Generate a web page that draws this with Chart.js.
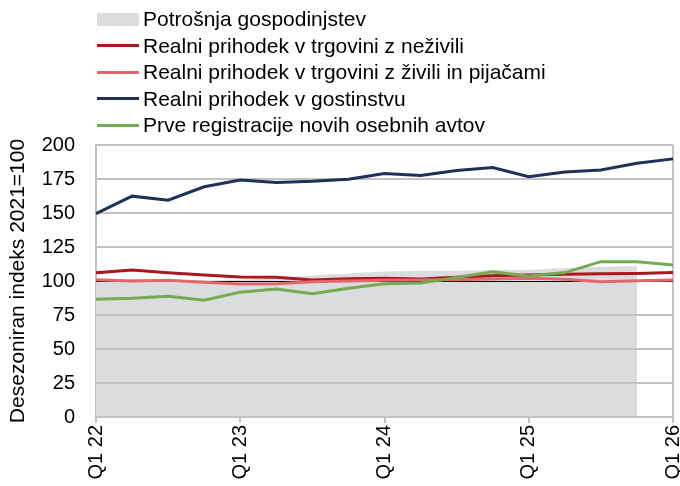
<!DOCTYPE html>
<html><head><meta charset="utf-8">
<script src="https://cdn.jsdelivr.net/npm/chart.js@4.4.1/dist/chart.umd.min.js"></script>
<style>
body{margin:0;background:#fff;}
#wrap{position:relative;width:680px;height:486px;}
#legend{position:absolute;left:0;top:0;width:680px;height:140px;font-family:"Liberation Sans",Arial,sans-serif;font-size:21px;color:#000;}
.item{position:absolute;left:97px;height:24px;white-space:nowrap;}
.sw{position:absolute;left:0;width:42px;}
.tx{position:absolute;left:46px;top:0;line-height:24px;}
</style></head><body>
<div id="wrap"><canvas id="c"></canvas><div id="legend"></div></div>
<script>
const categories = ['Q1 22','Q2 22','Q3 22','Q4 22','Q1 23','Q2 23','Q3 23','Q4 23','Q1 24','Q2 24','Q3 24','Q4 24','Q1 25','Q2 25','Q3 25','Q4 25','Q1 26'];
const consumption = [101, 101.5, 101, 100.5, 101, 102, 104, 105.5, 107, 107.5, 107.5, 108, 108, 109.5, 110.5, 111, null];
const retailNonFood = [106, 108, 106, 104.5, 103, 102.8, 100.8, 101.6, 102, 101.5, 102.8, 103.8, 104.5, 105, 105.3, 105.6, 106.2];
const retailFood = [101, 100, 100.5, 99, 97.8, 97.9, 99.5, 100, 100.5, 100.8, 101, 101.5, 102, 101.2, 99.5, 100.2, 100.7];
const hospitality = [149.5, 162.4, 159.4, 169.3, 174.3, 172.5, 173.3, 174.8, 179, 177.5, 181.2, 183.4, 176.7, 180.2, 181.7, 186.6, 189.8];
const carRegistrations = [86.6, 87.3, 88.8, 85.8, 91.8, 94.1, 90.6, 94.7, 98, 98.5, 102.6, 106.7, 103.7, 106.2, 114.2, 114.2, 111.8];
const yTicks = [0, 25, 50, 75, 100, 125, 150, 175, 200];
const seriesNames = ['Potrošnja gospodinjstev','Realni prihodek v trgovini z neživili','Realni prihodek v trgovini z živili in pijačami','Realni prihodek v gostinstvu','Prve registracije novih osebnih avtov'];
const yTitle = 'Desezoniran indeks 2021=100';

const FONT = '"Liberation Sans", Arial, sans-serif';
const GRID = '#c2c2c2';
const colors = ['#dbdcde', '#a8181e', '#e2676a', '#1e3158', '#74ab52'];

Chart.defaults.font.family = FONT;
Chart.defaults.font.size = 20;
Chart.defaults.color = '#000';

const gridOverArea = {
  id: 'gridOverArea',
  afterDatasetDraw(chart, args) {
    if (args.index !== 0) return;
    const ctx = chart.ctx, ys = chart.scales.y, a = chart.chartArea;
    ctx.save();
    yTicks.forEach(v => {
      const y = ys.getPixelForValue(v);
      ctx.beginPath();
      if (v === 100) { ctx.strokeStyle = '#000'; ctx.lineWidth = 1; ctx.moveTo(a.left, Math.round(y) + 0.5); ctx.lineTo(a.right, Math.round(y) + 0.5); }
      else { ctx.strokeStyle = GRID; ctx.lineWidth = 2; ctx.moveTo(a.left, y); ctx.lineTo(a.right, y); }
      ctx.stroke();
    });
    ctx.restore();
  }
};

const lineDs = (i, data, order) => ({
  label: seriesNames[i], data, borderColor: colors[i], backgroundColor: colors[i],
  borderWidth: 3, pointRadius: 0, tension: 0, fill: false, order
});

const chart = new Chart(document.getElementById('c'), {
  type: 'line',
  data: {
    labels: categories,
    datasets: [
      { label: seriesNames[0], data: consumption, borderWidth: 0, borderColor: 'rgba(0,0,0,0)', backgroundColor: colors[0], fill: 'origin', pointRadius: 0, tension: 0, order: 10 },
      lineDs(1, retailNonFood, 4),
      lineDs(2, retailFood, 3),
      lineDs(3, hospitality, 2),
      lineDs(4, carRegistrations, 1)
    ]
  },
  options: {
    responsive: true, maintainAspectRatio: false, animation: false,
    layout: { padding: { top: 145, right: 7, left: 0, bottom: 0 } },
    plugins: { legend: { display: false }, tooltip: { enabled: false } },
    scales: {
      x: {
        offset: false,
        grid: {
          drawOnChartArea: true, drawTicks: true, tickLength: 6, lineWidth: 2,
          color: c => (c.index === categories.length - 1 ? GRID : 'rgba(0,0,0,0)'),
          tickColor: c => (c.index % 4 === 0 ? GRID : 'rgba(0,0,0,0)')
        },
        border: { color: GRID, width: 2 },
        ticks: {
          autoSkip: false, maxRotation: 90, minRotation: 90, padding: 2,
          font: { size: 20 },
          callback: (v, i) => (i % 4 === 0 ? categories[i] : '')
        },
        afterFit: s => { s.height = 69; s.paddingLeft = 0; s.paddingRight = 0; }
      },
      y: {
        min: 0, max: 200,
        afterBuildTicks: s => { s.ticks = yTicks.map(v => ({ value: v })); },
        grid: { color: c => (c.tick && c.tick.value === 100 ? 'rgba(0,0,0,0)' : GRID), lineWidth: 2, drawTicks: false },
        border: { color: GRID, width: 2 },
        ticks: { padding: 21, font: { size: 20 } },
        title: { display: true, text: yTitle, font: { size: 21 }, padding: { top: 6, bottom: 0 } },
        afterFit: s => { s.width = 96; }
      }
    }
  },
  plugins: [gridOverArea]
});

// HTML legend built from the chart datasets
const legend = document.getElementById('legend');
const rowCenters = [19, 45.5, 72, 98.5, 125];
chart.data.datasets.forEach((ds, i) => {
  const item = document.createElement('div');
  item.className = 'item';
  item.style.top = (rowCenters[i] - 12) + 'px';
  const sw = document.createElement('span');
  sw.className = 'sw';
  if (i === 0) { sw.style.height = '13px'; sw.style.top = '5.5px'; }
  else { sw.style.height = '3px'; sw.style.top = '10.5px'; }
  sw.style.background = colors[i];
  const tx = document.createElement('span');
  tx.className = 'tx';
  tx.textContent = ds.label;
  item.appendChild(sw); item.appendChild(tx);
  legend.appendChild(item);
});
</script>
</body></html>
